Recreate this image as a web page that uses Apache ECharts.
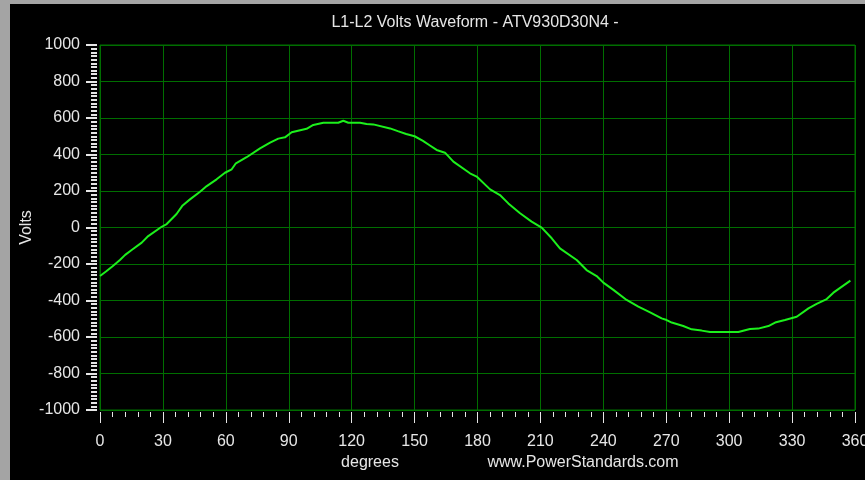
<!DOCTYPE html>
<html>
<head>
<meta charset="utf-8">
<script src="https://cdn.jsdelivr.net/npm/echarts@6.0.0/dist/echarts.min.js"></script>
<style>
  html, body { margin: 0; padding: 0; background: #a4a4a4; }
  #chart { position: absolute; left: 10px; top: 4px; width: 855px; height: 476px; background: #000; }
</style>
</head>
<body>
<div id="chart"></div>
<script>
// waveform samples: angle (degrees) and line-to-line volts
const degrees = [
  0, 3, 6, 9.5, 12, 15.1, 19.9, 23, 29.4, 31.8, 36.5, 39.4, 42.9, 47.7, 50.9,
  55.6, 59.6, 62.8, 64.8, 69.9, 76.3, 81.1, 85, 88.2, 91.4, 98.5, 101.7, 106.5,
  113.6, 116, 118.4, 124, 127.1, 130.3, 138.3, 142, 146, 150, 154, 157.5, 160.5,
  164.5, 168.5, 176.4, 179.6, 186, 190.7, 194.7, 200.3, 205.8, 210.6, 215.4,
  219.3, 227.3, 232, 236.8, 240, 244.8, 251.1, 256.7, 262.3, 267.8, 270.2,
  272.6, 278.1, 282.1, 286.9, 290.9, 304.4, 309.9, 313.9, 318.7, 321.9, 326.6,
  332.2, 337.8, 341.7, 346.5, 349.7, 357.8
];
const volts = [
  -266, -240, -212, -178, -150, -123, -83, -47, 4, 19, 74, 121, 154, 196, 227,
  264, 300, 319, 352, 385, 434, 465, 487, 494, 522, 541, 562, 574,
  574, 585, 574, 574, 567, 565, 543, 528, 512, 500, 475, 448, 425,
  410, 361, 297, 279, 209, 178, 132, 78, 32, -1, -59,
  -114, -178, -233, -266, -302, -342, -397, -434, -465, -498, -507,
  -521, -540, -558, -565, -573, -573, -556, -554, -540, -521, -507,
  -489, -443, -419, -392, -357, -291
];
const xTicks = { min: 0, max: 360, step: 30 };
const yTicks = { min: -1000, max: 1000, step: 200 };

const chartTitle = 'L1-L2 Volts Waveform - ATV930D30N4 -';
const xName = 'degrees';
const yName = 'Volts';
const siteText = 'www.PowerStandards.com';

const textColor = '#e6e6e6';
const gridColor = '#006e00';
const font = 'Liberation Sans, Arial, sans-serif';

const myChart = echarts.init(document.getElementById('chart'));

const option = {
  animation: false,
  backgroundColor: '#000',
  textStyle: { fontFamily: font },
  title: [
    {
      text: chartTitle, left: 465, top: 11, textAlign: 'center', padding: 0,
      textStyle: { color: textColor, fontSize: 16, fontWeight: 'normal', fontFamily: font }
    },
    {
      text: xName, left: 360, top: 451, textAlign: 'center', padding: 0,
      textStyle: { color: textColor, fontSize: 16, fontWeight: 'normal', fontFamily: font }
    },
    {
      text: siteText, left: 573, top: 451, textAlign: 'center', padding: 0,
      textStyle: { color: textColor, fontSize: 16, fontWeight: 'normal', fontFamily: font }
    }
  ],
  grid: {
    left: 90, right: 10, top: 41, bottom: 70,
    show: true, borderColor: gridColor, borderWidth: 1, backgroundColor: '#000',
    outerBoundsMode: 'none'
  },
  xAxis: {
    type: 'value',
    position: 'bottom',
    min: xTicks.min, max: xTicks.max, interval: xTicks.step,
    offset: 2,
    axisLine: { show: false, onZero: false },
    axisTick: { show: true, length: 11, lineStyle: { color: textColor, width: 1 } },
    minorTick: { show: true, splitNumber: 5, length: 5, lineStyle: { color: textColor, width: 1 } },
    axisLabel: { color: textColor, fontSize: 16, margin: 22, fontFamily: font },
    splitLine: { show: true, lineStyle: { color: gridColor, width: 1 } },
    minorSplitLine: { show: false }
  },
  yAxis: {
    type: 'value',
    position: 'left',
    min: yTicks.min, max: yTicks.max, interval: yTicks.step,
    offset: 3,
    name: yName, nameLocation: 'middle', nameRotate: 90, nameGap: 62,
    nameMoveOverlap: false,
    nameTextStyle: { color: textColor, fontSize: 16, fontFamily: font },
    axisLine: { show: false, onZero: false },
    axisTick: { show: true, length: 11, lineStyle: { color: textColor, width: 2 } },
    minorTick: { show: true, splitNumber: 10, length: 6, lineStyle: { color: textColor, width: 2 } },
    axisLabel: {
      color: textColor, fontSize: 16, margin: 17, fontFamily: font,
      formatter: (v) => String(v)
    },
    splitLine: { show: true, lineStyle: { color: gridColor, width: 1 } },
    minorSplitLine: { show: false }
  },
  series: [
    {
      name: yName,
      type: 'line',
      data: degrees.map((d, i) => [d, volts[i]]),
      showSymbol: false,
      smooth: false,
      lineStyle: { color: '#1cf01c', width: 2 },
      itemStyle: { color: '#1cf01c' }
    }
  ]
};

myChart.setOption(option);
</script>
</body>
</html>
